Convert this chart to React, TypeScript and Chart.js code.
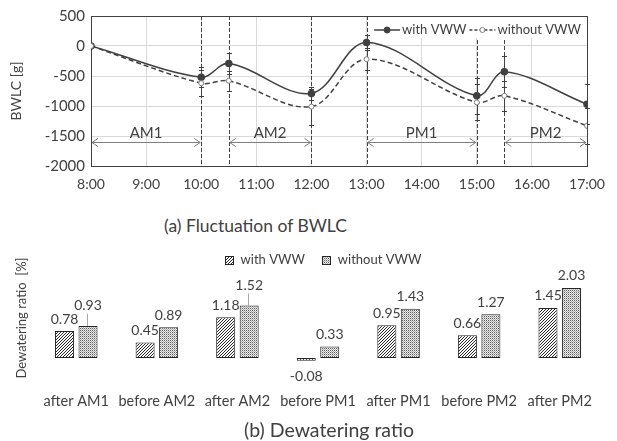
import React, { useEffect, useRef } from 'react';
import { Chart, registerables } from 'chart.js';
Chart.register(...registerables);

const FONT = 'Lato, "Noto Sans", sans-serif';
const TEXT = '#404040';

// ---- (a) Fluctuation of BWLC ----
const times = ['8:00', '10:00', '10:30', '12:00', '13:00', '15:00', '15:30', '17:00'];
const withVWW = [0, -520, -290, -790, 60, -830, -430, -970];
const withoutVWW = [0, -620, -580, -1010, -220, -940, -830, -1330];
const withErr = [0, 170, 180, 110, 120, 300, 260, 330];
const withoutErr = [0, 220, 170, 300, 180, 300, 250, 300];
const eventTimes = ['10:00', '10:30', '12:00', '13:00', '15:00', '15:30'];
const periodLabels = ['AM1', 'AM2', 'PM1', 'PM2'];
const periodStarts = ['8:00', '10:30', '13:00', '15:30'];
const periodEnds = ['10:00', '12:00', '15:00', '17:00'];
const periodArrowValue = -1600;

// ---- (b) Dewatering ratio ----
const categories = ['after AM1', 'before AM2', 'after AM2', 'before PM1', 'after PM1', 'before PM2', 'after PM2'];
const ratioWith = [0.78, 0.45, 1.18, -0.08, 0.95, 0.66, 1.45];
const ratioWithout = [0.93, 0.89, 1.52, 0.33, 1.43, 1.27, 2.03];

function toHours(t: string) {
  const [h, m] = t.split(':').map(Number);
  return h + m / 60;
}
function fmtHour(v: number) {
  const h = Math.floor(v);
  const m = Math.round((v - h) * 60);
  return `${h}:${String(m).padStart(2, '0')}`;
}

const frameAndAnnotations = {
  id: 'frameAndAnnotations',
  beforeDatasetsDraw(chart: any) {
    const { ctx, chartArea: a, scales } = chart;
    const x = scales.x, y = scales.y;
    ctx.save();
    ctx.strokeStyle = TEXT;
    ctx.lineWidth = 1;
    ctx.setLineDash([4, 2]);
    eventTimes.forEach((t) => {
      const px = Math.round(x.getPixelForValue(toHours(t))) + 0.5;
      ctx.beginPath();
      ctx.moveTo(px, a.top);
      ctx.lineTo(px, a.bottom);
      ctx.stroke();
    });
    ctx.setLineDash([]);
    const py = Math.round(y.getPixelForValue(periodArrowValue)) + 0.5;
    ctx.strokeStyle = '#7f7f7f';
    ctx.fillStyle = TEXT;
    ctx.font = `15px ${FONT}`;
    ctx.textAlign = 'center';
    ctx.textBaseline = 'middle';
    periodLabels.forEach((lab, i) => {
      const x1 = x.getPixelForValue(toHours(periodStarts[i])) + 1;
      const x2 = x.getPixelForValue(toHours(periodEnds[i])) - 1;
      ctx.beginPath();
      ctx.moveTo(x1, py);
      ctx.lineTo(x2, py);
      ctx.moveTo(x1 + 6, py - 4);
      ctx.lineTo(x1, py);
      ctx.lineTo(x1 + 6, py + 4);
      ctx.moveTo(x2 - 6, py - 4);
      ctx.lineTo(x2, py);
      ctx.lineTo(x2 - 6, py + 4);
      ctx.stroke();
      ctx.fillText(lab, (x1 + x2) / 2, py - 9);
    });
    ctx.strokeStyle = TEXT;
    ctx.lineWidth = 1;
    ctx.strokeRect(Math.round(a.left) + 0.5, Math.round(a.top) + 0.5, Math.round(a.right - a.left), Math.round(a.bottom - a.top));
    ctx.restore();
  },
};

const errorBars = {
  id: 'errorBars',
  beforeDatasetsDraw(chart: any) {
    const { ctx, scales } = chart;
    const x = scales.x, y = scales.y;
    ctx.save();
    ctx.strokeStyle = TEXT;
    ctx.lineWidth = 1;
    chart.data.datasets.forEach((ds: any) => {
      const errs: number[] = ds.errors;
      if (!errs) return;
      ds.data.forEach((p: any, j: number) => {
        const e = errs[j];
        if (!e) return;
        const px = Math.round(x.getPixelForValue(p.x)) + 0.5;
        const y1 = Math.round(y.getPixelForValue(p.y + e)) + 0.5;
        const y2 = Math.round(y.getPixelForValue(p.y - e)) + 0.5;
        ctx.beginPath();
        ctx.moveTo(px, y1);
        ctx.lineTo(px, y2);
        ctx.moveTo(px - 2.5, y1);
        ctx.lineTo(px + 2.5, y1);
        ctx.moveTo(px - 2.5, y2);
        ctx.lineTo(px + 2.5, y2);
        ctx.stroke();
      });
    });
    ctx.restore();
  },
};

const lineLegend = {
  id: 'lineLegend',
  afterDraw(chart: any) {
    const { ctx, chartArea: a } = chart;
    ctx.save();
    ctx.font = `13px ${FONT}`;
    ctx.textBaseline = 'middle';
    ctx.textAlign = 'left';
    const items = [
      { label: 'with VWW', dash: [] as number[], fill: TEXT, stroke: TEXT, r: 3 },
      { label: 'without VWW', dash: [3, 2], fill: '#fff', stroke: '#7f7f7f', r: 2.5 },
    ];
    const sample = 26;
    const gap = 2;
    const widths = items.map((it) => sample + gap + ctx.measureText(it.label).width);
    const total = widths.reduce((s, w) => s + w, 0) + 3;
    let cx = a.right - 6 - total;
    const cy = a.top + 14;
    ctx.fillStyle = '#fff';
    ctx.fillRect(cx - 3, a.top + 1, total + 6, 21);
    items.forEach((it, i) => {
      ctx.strokeStyle = TEXT;
      ctx.lineWidth = 1.5;
      ctx.setLineDash(it.dash);
      ctx.beginPath();
      ctx.moveTo(cx, cy);
      ctx.lineTo(cx + sample, cy);
      ctx.stroke();
      ctx.setLineDash([]);
      ctx.beginPath();
      ctx.arc(cx + sample / 2, cy, it.r, 0, Math.PI * 2);
      ctx.fillStyle = it.fill;
      ctx.fill();
      ctx.lineWidth = 1;
      ctx.strokeStyle = it.stroke;
      ctx.stroke();
      ctx.fillStyle = TEXT;
      ctx.fillText(it.label, cx + sample + gap, cy);
      cx += widths[i] + 3;
    });
    ctx.restore();
  },
};

const barLegend = {
  id: 'barLegend',
  afterDraw(chart: any) {
    const { ctx, chartArea: a } = chart;
    ctx.save();
    ctx.font = `13px ${FONT}`;
    ctx.textBaseline = 'middle';
    ctx.textAlign = 'left';
    const ds = chart.data.datasets;
    const box = 8, gapText = 8, gapItem = 17;
    const widths = ds.map((d: any) => box + gapText + ctx.measureText(d.label).width);
    const total = widths.reduce((s: number, w: number) => s + w, 0) + gapItem * (ds.length - 1);
    let cx = (a.left + a.right) / 2 + 5 - total / 2;
    const cy = 20;
    ds.forEach((d: any, i: number) => {
      const bx = Math.round(cx) + 0.5, by = Math.round(cy - box / 2) + 0.5;
      ctx.fillStyle = d.backgroundColor;
      ctx.fillRect(bx, by, box, box);
      ctx.strokeStyle = '#262626';
      ctx.lineWidth = 1;
      ctx.strokeRect(bx, by, box, box);
      ctx.fillStyle = TEXT;
      ctx.fillText(d.label, cx + box + gapText, cy);
      cx += widths[i] + gapItem;
    });
    ctx.restore();
  },
};

const barLabels = {
  id: 'barLabels',
  afterDatasetsDraw(chart: any) {
    const { ctx, scales } = chart;
    const zero = scales.y.getPixelForValue(0);
    ctx.save();
    ctx.font = `14px ${FONT}`;
    ctx.textAlign = 'center';
    ctx.textBaseline = 'middle';
    const m0 = chart.getDatasetMeta(0).data;
    const m1 = chart.getDatasetMeta(1).data;
    const labelY = (bar: any, v: number) => (v >= 0 ? bar.y - 12 : zero + 18);
    chart.data.labels.forEach((_: any, i: number) => {
      const v0 = chart.data.datasets[0].data[i];
      const v1 = chart.data.datasets[1].data[i];
      const y0 = labelY(m0[i], v0);
      let y1 = labelY(m1[i], v1);
      ctx.fillStyle = TEXT;
      ctx.fillText(v0.toFixed(2), m0[i].x, y0);
      if (Math.abs(y1 - y0) < 13) {
        y1 = m1[i].y - 20;
        ctx.strokeStyle = '#a6a6a6';
        ctx.lineWidth = 1;
        ctx.beginPath();
        ctx.moveTo(Math.round(m1[i].x) - 0.5, y1 + 8);
        ctx.lineTo(Math.round(m1[i].x) - 0.5, m1[i].y);
        ctx.stroke();
      }
      ctx.fillText(v1.toFixed(2), m1[i].x, y1);
    });
    ctx.restore();
  },
};

function makeHatch() {
  const c = document.createElement('canvas');
  c.width = 3;
  c.height = 3;
  const g = c.getContext('2d')!;
  const img = g.createImageData(3, 3);
  for (let yy = 0; yy < 3; yy++) {
    for (let xx = 0; xx < 3; xx++) {
      const on = (xx + yy) % 3 === 2;
      const v = on ? 40 : 250;
      const k = (yy * 3 + xx) * 4;
      img.data[k] = v; img.data[k + 1] = v; img.data[k + 2] = v; img.data[k + 3] = 255;
    }
  }
  g.putImageData(img, 0, 0);
  return g.createPattern(c, 'repeat');
}
function makeDots() {
  const c = document.createElement('canvas');
  c.width = 2;
  c.height = 2;
  const g = c.getContext('2d')!;
  g.fillStyle = '#ececec';
  g.fillRect(0, 0, 2, 2);
  g.fillStyle = '#5a5a5a';
  g.fillRect(0, 0, 1, 1);
  g.fillStyle = '#b0b0b0';
  g.fillRect(1, 1, 1, 1);
  return g.createPattern(c, 'repeat');
}

export default function App() {
  const topRef = useRef<HTMLCanvasElement>(null);
  const botRef = useRef<HTMLCanvasElement>(null);

  useEffect(() => {
    const xTickFont = { family: FONT, size: 14 };
    const yTickFont = { family: FONT, size: 15 };
    const titleFont = { family: FONT, size: 14 };
    const catFont = { family: FONT, size: 14.5 };
    const top = new Chart(topRef.current!, {
      type: 'line',
      data: {
        datasets: [
          {
            label: 'with VWW',
            data: times.map((t, i) => ({ x: toHours(t), y: withVWW[i] })),
            errors: withErr,
            borderColor: TEXT,
            borderWidth: 1.5,
            tension: 0.35,
            pointRadius: 3,
            pointBackgroundColor: TEXT,
            pointBorderColor: TEXT,
            order: 1,
          } as any,
          {
            label: 'without VWW',
            data: times.map((t, i) => ({ x: toHours(t), y: withoutVWW[i] })),
            errors: withoutErr,
            borderColor: TEXT,
            borderWidth: 1.5,
            borderDash: [5, 3],
            tension: 0.35,
            pointRadius: 2.5,
            pointBackgroundColor: '#fff',
            pointBorderColor: '#7f7f7f',
            pointBorderWidth: 1,
            order: 0,
          } as any,
        ],
      },
      options: {
        animation: false,
        responsive: false,
        layout: { padding: { left: 0, right: 30, top: 16, bottom: 0 } },
        plugins: { legend: { display: false }, tooltip: { enabled: false } },
        scales: {
          x: {
            type: 'linear',
            min: 8,
            max: 17,
            ticks: { stepSize: 1, callback: (v: any) => fmtHour(Number(v)), color: TEXT, font: xTickFont, padding: 10, maxRotation: 0, autoSkip: false },
            grid: { color: '#d9d9d9', drawTicks: false },
            border: { display: false },
            afterFit: (s: any) => { s.height = 34; },
          },
          y: {
            min: -2000,
            max: 500,
            ticks: { stepSize: 500, callback: (v: any) => String(v), color: TEXT, font: yTickFont, padding: 6 },
            grid: { color: '#d9d9d9', drawTicks: false },
            border: { display: false },
            title: { display: true, text: 'BWLC [g]', color: TEXT, font: titleFont, padding: { top: 8, bottom: 0 } },
            afterFit: (s: any) => { s.width = 91; },
          },
        },
      } as any,
      plugins: [frameAndAnnotations, errorBars, lineLegend],
    });

    const bot = new Chart(botRef.current!, {
      type: 'bar',
      data: {
        labels: categories,
        datasets: [
          {
            label: 'with VWW',
            data: ratioWith,
            backgroundColor: makeHatch() as any,
            borderColor: '#262626',
            borderWidth: 1,
            borderSkipped: false,
            categoryPercentage: 0.583,
            barPercentage: 0.81,
          },
          {
            label: 'without VWW',
            data: ratioWithout,
            backgroundColor: makeDots() as any,
            borderColor: '#262626',
            borderWidth: 1,
            borderSkipped: false,
            categoryPercentage: 0.583,
            barPercentage: 0.81,
          },
        ],
      },
      options: {
        animation: false,
        responsive: false,
        layout: { padding: { left: 0, right: 17, top: 26, bottom: 0 } },
        plugins: { legend: { display: false }, tooltip: { enabled: false } },
        scales: {
          x: {
            grid: { display: false, drawTicks: false },
            border: { display: false },
            ticks: { color: TEXT, font: catFont, padding: 23, maxRotation: 0, autoSkip: false },
            afterFit: (s: any) => { s.height = 71; },
          },
          y: {
            min: -0.348,
            max: 2.667,
            ticks: { display: false, stepSize: 0.5 },
            grid: { drawTicks: false, color: (c: any) => (c.tick && c.tick.value === 0 ? TEXT : 'rgba(0,0,0,0)') },
            border: { display: false },
            title: { display: true, text: 'Dewatering ratio  [%]', color: TEXT, font: { family: FONT, size: 13 }, padding: { top: 14, bottom: 0 } },
            afterFit: (s: any) => { s.width = 36; },
          },
        },
      } as any,
      plugins: [barLabels, barLegend],
    });

    return () => {
      top.destroy();
      bot.destroy();
    };
  }, []);

  const caption: React.CSSProperties = {
    position: 'absolute',
    transform: 'translate(-50%, -50%)',
    whiteSpace: 'nowrap',
    fontFamily: FONT,
    color: TEXT,
    lineHeight: 1,
  };

  return (
    <div style={{ position: 'fixed', left: 0, top: 0, width: 617, height: 441, background: '#fff', overflow: 'hidden' }}>
      <canvas ref={topRef} width={617} height={200} style={{ position: 'absolute', left: 0, top: 0, width: 617, height: 200 }} />
      <div style={{ ...caption, fontSize: 17.5, left: 255.5, top: 226 }}>(a) Fluctuation of BWLC</div>
      <canvas ref={botRef} width={617} height={201} style={{ position: 'absolute', left: 0, top: 240, width: 617, height: 201 }} />
      <div style={{ ...caption, fontSize: 19.5, left: 329, top: 430 }}>(b) Dewatering ratio</div>
    </div>
  );
}
